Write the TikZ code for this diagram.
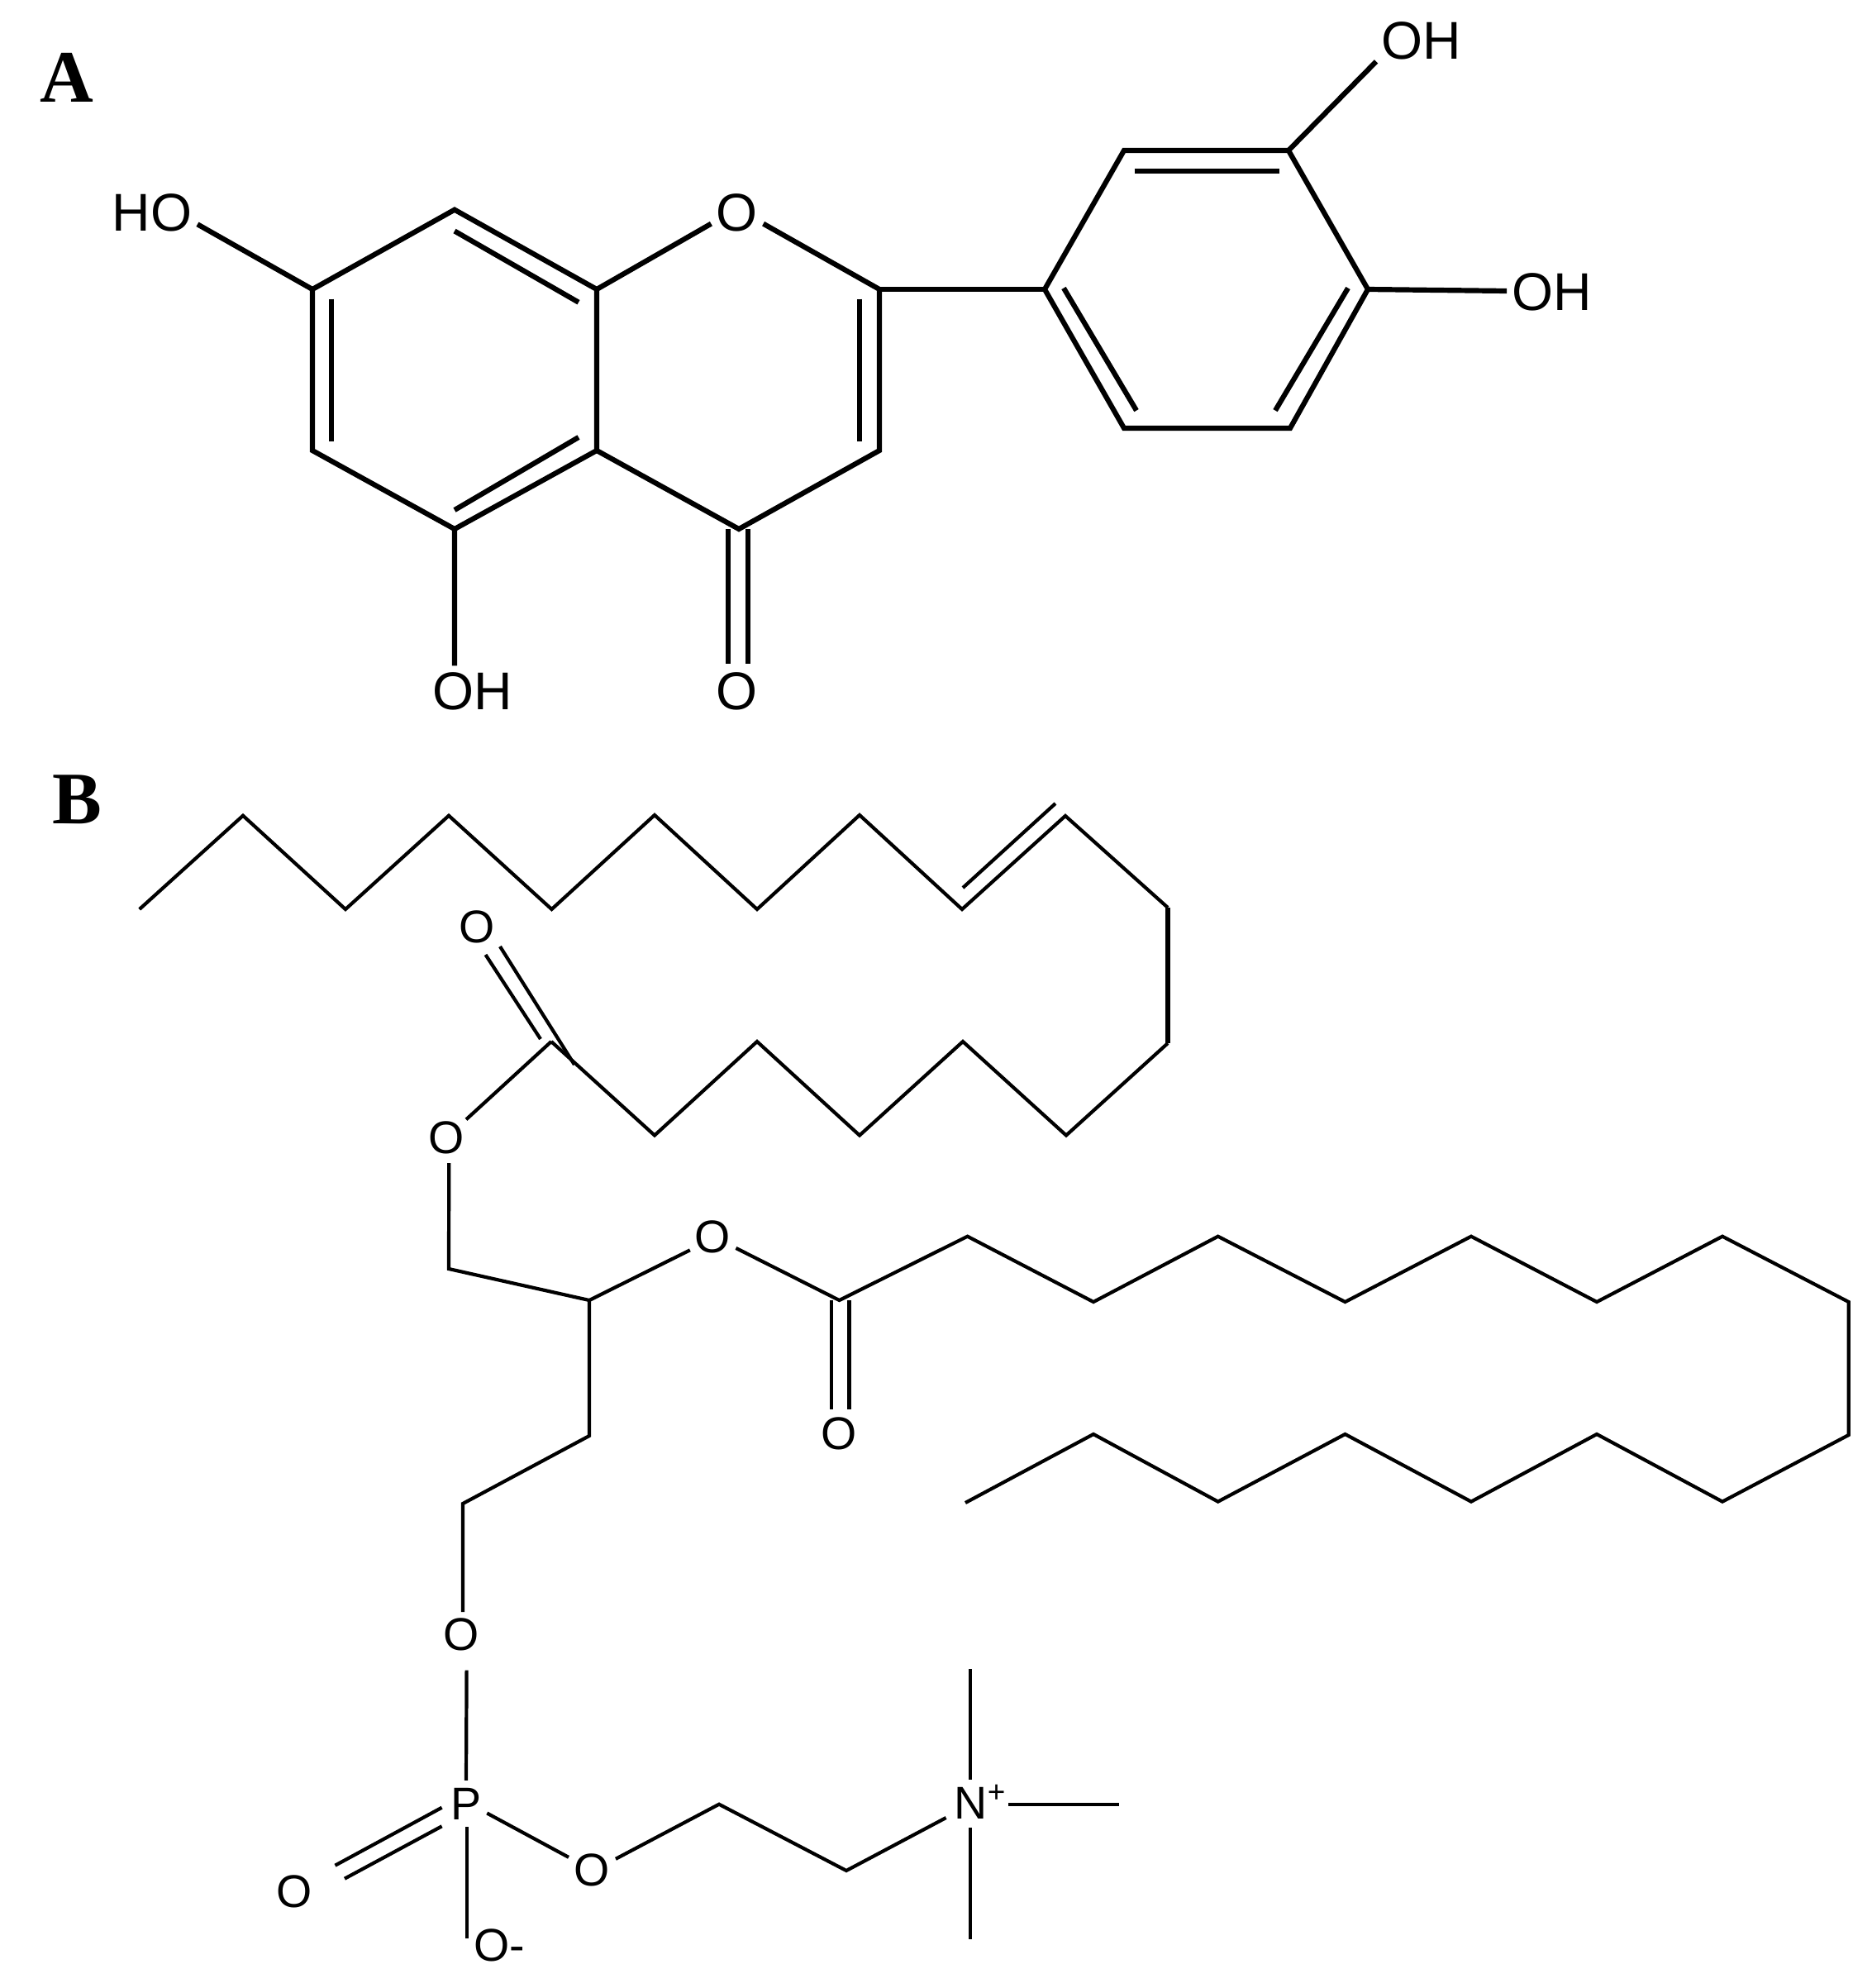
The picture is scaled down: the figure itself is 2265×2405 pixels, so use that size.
\documentclass[tikz,border=0pt]{standalone}
\usepackage{fontspec}
\setmainfont{Liberation Sans}
\newfontfamily\panelfont{Liberation Serif}
\tikzset{
  bondA/.style={line width=0.62mm,line join=miter,draw=black},
  bondB/.style={line width=0.42mm,line join=miter,draw=black},
  bondBthick/.style={line width=0.54mm,draw=black},
  panel/.style={font=\panelfont\bfseries\fontsize{25.5}{28}\selectfont,inner sep=0pt,text height=17.2pt,text depth=0pt},
  labA/.style={font=\fontsize{18.3}{20}\selectfont,inner sep=0.6mm,text height=13.1pt,text depth=0pt,rectangle},
  oA/.style={font=\fontsize{18.3}{20}\selectfont,inner sep=0pt,text height=13.1pt,text depth=0pt,circle,minimum size=6.6mm},
  labB/.style={font=\fontsize{15.8}{17}\selectfont,inner sep=0pt,text height=11.3pt,text depth=0pt,circle,minimum size=6.2mm},
  labBp/.style={labB,minimum size=5.4mm}
}
\begin{document}
\begin{tikzpicture}[x=0.1mm,y=-0.1mm]
\useasboundingbox (0,0) rectangle (2265,2405);
\fill[white] (0,0) rectangle (2265,2405);

% panel letters
\node[panel] (panelA) at (81,93) {A};
\node[panel] (panelB) at (93,966) {B};

% ===== molecule A: atoms
\coordinate (C7) at (378,350);
\coordinate (C8) at (550,253.7);
\coordinate (C8a) at (722,350);
\coordinate (C2) at (1064,350);
\coordinate (C3) at (1064,545);
\coordinate (C4) at (894,640);
\coordinate (C4a) at (722,545);
\coordinate (C5) at (550,640);
\coordinate (C6) at (378,545);
\coordinate (Ca) at (1264,350);
\coordinate (Cb) at (1360,182);
\coordinate (Cc) at (1559,182);
\coordinate (Cd) at (1655,350);
\coordinate (Ce) at (1561,518);
\coordinate (Cf) at (1360,518);
\node[labA] (HOa) at (184,256.6) {HO};
\node[oA] (O1) at (892,256.6) {O};
\node[labA] (OHb) at (571.5,835) {OH};
\node[oA] (Ok) at (892,835) {O};
\node[labA] (OHc) at (1720,48.8) {OH};
\node[labA] (OHd) at (1878,352) {OH};

% inner lines of double bonds
\coordinate (i1a) at (550,279.5); \coordinate (i1b) at (700,365.7);
\coordinate (i2a) at (401,361.6); \coordinate (i2b) at (401,534);
\coordinate (i3a) at (1040,361.6); \coordinate (i3b) at (1040,534);
\coordinate (i4a) at (700,529); \coordinate (i4b) at (550,617);
\coordinate (i5a) at (1372.5,206.7); \coordinate (i5b) at (1548,206.7);
\coordinate (i6a) at (1287,348.5); \coordinate (i6b) at (1375,496.6);
\coordinate (i7a) at (1631,348.5); \coordinate (i7b) at (1543,496.6);
\coordinate (k1a) at (881,640); \coordinate (k1b) at (881,802.5);
\coordinate (k2a) at (905,640); \coordinate (k2b) at (905,802.5);

\draw[bondA] (C7) -- (C8) -- (C8a) -- (C4a) -- (C5) -- (C6) -- cycle;
\draw[bondA] (HOa.-15) -- (C7);
\draw[bondA] (C8a) -- (O1.204.8);
\draw[bondA] (O1.-24.2) -- (C2) -- (C3) -- (C4) -- (C4a);
\draw[bondA] (C5) -- (OHb.126.5);
\draw[bondA] (Ca) -- (Cb) -- (Cc) -- (Cd) -- (Ce) -- (Cf) -- cycle;
\draw[bondA] (C2) -- (Ca);
\draw[bondA] (Cc) -- (OHc.205);
\draw[bondA] (Cd) -- (OHd.west);
\draw[bondA] (i1a) -- (i1b);
\draw[bondA] (i2a) -- (i2b);
\draw[bondA] (i3a) -- (i3b);
\draw[bondA] (i4a) -- (i4b);
\draw[bondA] (i5a) -- (i5b);
\draw[bondA] (i6a) -- (i6b);
\draw[bondA] (i7a) -- (i7b);
\draw[bondA] (k1a) -- (k1b);
\draw[bondA] (k2a) -- (k2b);

% ===== molecule B: upper chain
\coordinate (a1) at (168.7,1100);
\coordinate (a2) at (294,986.7);
\coordinate (a3) at (418,1100);
\coordinate (a4) at (543,986.7);
\coordinate (a5) at (667.5,1100);
\coordinate (a6) at (792,986);
\coordinate (a7) at (916,1100);
\coordinate (a8) at (1040,986);
\coordinate (a9) at (1164,1100);
\coordinate (a10) at (1289,987);
\coordinate (a11) at (1413,1098);
\coordinate (a12) at (1413,1262);
\coordinate (a13) at (1290,1373.5);
\coordinate (a14) at (1165,1260);
\coordinate (a15) at (1040,1373.5);
\coordinate (a16) at (916,1260);
\coordinate (a17) at (792,1373.5);
\coordinate (a18) at (667,1260);
\coordinate (dba) at (1165,1074); \coordinate (dbb) at (1277,972);
\draw[bondB] (a1) -- (a2) -- (a3) -- (a4) -- (a5) -- (a6) -- (a7) -- (a8) -- (a9) -- (a10) -- (a11);
\draw[bondBthick] (a11) -- (a12);
\draw[bondB] (a12) -- (a13) -- (a14) -- (a15) -- (a16) -- (a17) -- (a18);
\draw[bondB] (dba) -- (dbb);

\node[labB] (O2k) at (577,1121) {O};
\coordinate (d1a) at (587.5,1155); \coordinate (d1b) at (654,1257);
\coordinate (d2a) at (605,1145); \coordinate (d2b) at (695,1288);
\draw[bondB] (d1a) -- (d1b);
\draw[bondB] (d2a) -- (d2b);

% glycerol backbone
\node[labB] (O2e) at (540.5,1375.5) {O};
\coordinate (g1) at (543,1535);
\coordinate (g2) at (713,1573);
\coordinate (g3) at (713,1737);
\coordinate (g4) at (560,1819);
\coordinate (g5) at (560,1950);
\draw[bondB] (a18) -- (O2e.42.7);
\draw[bondB] (O2e.-85) -- (g1) -- (g2) -- (g3) -- (g4) -- (g5);

% second ester and lower chain
\node[labB] (O3e) at (862,1496) {O};
\node[labB] (O3k) at (1015,1734) {O};
\coordinate (b0) at (1015.5,1573);
\coordinate (b1) at (1170.6,1495.7);
\coordinate (b2) at (1323,1575);
\coordinate (b3) at (1473.7,1495.7);
\coordinate (b4) at (1627.5,1575);
\coordinate (b5) at (1780,1495.7);
\coordinate (b6) at (1932,1575);
\coordinate (b7) at (2084,1495.7);
\coordinate (b8) at (2236.7,1575);
\coordinate (b9) at (2236.7,1736);
\coordinate (b10) at (2084,1816.6);
\coordinate (b11) at (1932,1735);
\coordinate (b12) at (1780,1816.6);
\coordinate (b13) at (1627.5,1735);
\coordinate (b14) at (1473.7,1816.6);
\coordinate (b15) at (1323,1735);
\coordinate (b16) at (1168,1818);
\draw[bondB] (g2) -- (O3e.211);
\draw[bondB] (O3e.-26) -- (b0) -- (b1) -- (b2) -- (b3) -- (b4) -- (b5) -- (b6) -- (b7) -- (b8) -- (b9) -- (b10) -- (b11) -- (b12) -- (b13) -- (b14) -- (b15) -- (b16);
\coordinate (e1a) at (1006,1573); \coordinate (e1b) at (1006,1705);
\coordinate (e2a) at (1027.5,1573); \coordinate (e2b) at (1027.5,1705);
\draw[bondB] (e1a) -- (e1b);
\draw[bondB] (e2a) -- (e2b);

% phosphate head group
\node[labB] (O4) at (558,1976.7) {O};
\node[labBp] (P) at (564,2181.7) {P};
\node[labB] (O5) at (356,2288) {O};
\node[labB] (O6) at (716,2261.7) {O};
\node[labB,rectangle,minimum size=0pt,anchor=west] (O7) at (573,2352.7) {O-};
\node[labB,rectangle,minimum size=0pt,anchor=base west] (Nplus) at (1154,2200) {N\raisebox{2mm}{\fontsize{10.5}{10}\selectfont +}};
\coordinate (c1) at (870,2182.7);
\coordinate (c2) at (1024,2263);
\coordinate (pt) at (564.6,2020.7);
\coordinate (ps) at (564.6,2345);
\coordinate (pu) at (564.6,2210);
\coordinate (p1a) at (534.6,2186.7); \coordinate (p1b) at (405.5,2256.7);
\coordinate (p2a) at (534.6,2209.3); \coordinate (p2b) at (417,2272.7);
\coordinate (nl) at (1144.6,2199);
\coordinate (nu1) at (1174,2019); \coordinate (nu2) at (1174,2153);
\coordinate (nd1) at (1174,2211); \coordinate (nd2) at (1174,2346);
\coordinate (nr1) at (1220,2182.6); \coordinate (nr2) at (1354,2182.6);

\draw[bondB] (pt) -- (P.90);
\draw[bondB] (pu) -- (ps);
\draw[bondB] (p1a) -- (p1b);
\draw[bondB] (p2a) -- (p2b);
\draw[bondB] (P.-25) -- (O6.152.7);
\draw[bondB] (O6.24.8) -- (c1) -- (c2) -- (nl);
\draw[bondB] (nu1) -- (nu2);
\draw[bondB] (nd1) -- (nd2);
\draw[bondB] (nr1) -- (nr2);
\end{tikzpicture}
\end{document}
